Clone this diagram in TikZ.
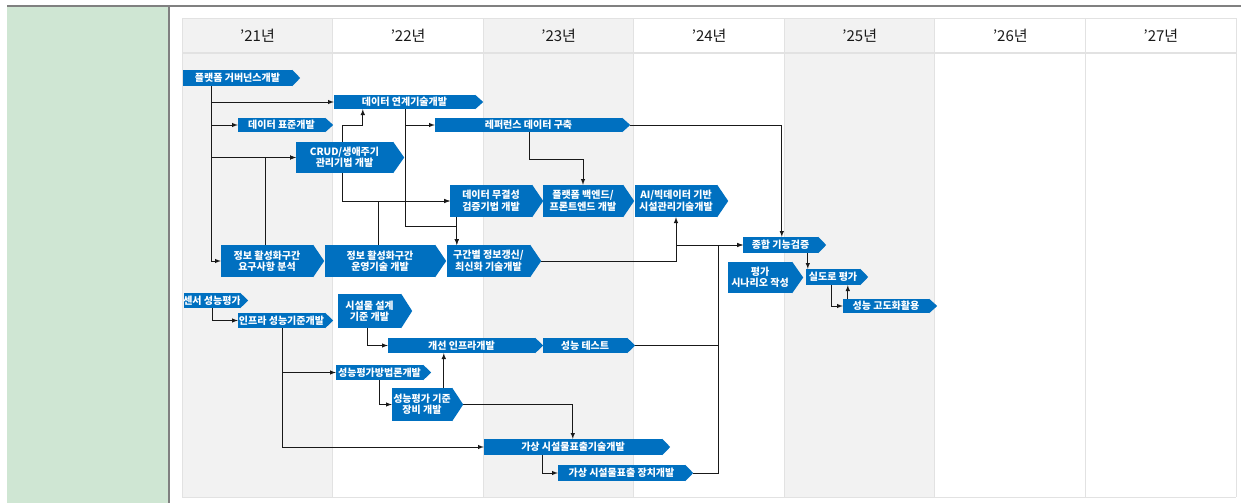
\documentclass[tikz,border=0pt]{standalone}
\usepackage{fontspec}
\setmainfont{Noto Sans CJK KR}
\usepackage{tikz}
\usepackage{xcolor}
\tikzset{>=latex}
\usetikzlibrary{calc}

\definecolor{taskblue}{HTML}{0070C0}
\definecolor{panelgreen}{HTML}{CFE6D3}
\definecolor{colgray}{HTML}{F2F2F2}
\definecolor{gridgray}{HTML}{E2E2E2}
\definecolor{rulegray}{HTML}{808080}

\pgfdeclarelayer{grid}
\pgfdeclarelayer{lines}
\pgfsetlayers{grid,lines,main}

\newcommand{\wide}[1]{\makebox[0pt]{#1}}

\tikzset{
  task/.style={fill=taskblue, text=white, inner sep=0pt, align=center,
    font=\fontsize{10}{11.5}\selectfont\bfseries},
  yearlbl/.style={text=black!90, font=\fontsize{15}{16}\selectfont},
  conn/.style={->, line width=1pt, black!90}
}

\begin{document}
\begin{tikzpicture}[x=1pt, y=-1pt]
    \useasboundingbox (0,0) rectangle (1241,503);

    % frame and table
    \begin{pgfonlayer}{grid}
    \fill[panelgreen] (7,6) rectangle (168,503);
    \draw[rulegray, line width=1.2pt] (7,6) -- (1241,6);
    \draw[rulegray, line width=1.2pt] (169,6) -- (169,503);
    \foreach \i in {0,2,4}
      \fill[colgray] ({182+150.57*\i},18) rectangle ++(150.57,479);
    \foreach \i in {0,...,7}
      \draw[gridgray, line width=0.8pt] ({182+150.57*\i},18) -- ++(0,479);
    \draw[gridgray, line width=0.8pt] (182,18) -- (1236,18)
          (182,497) -- (1236,497);
    \draw[gridgray, line width=2pt] (182,53) -- (1236,53);
    \end{pgfonlayer}
    \foreach \yr [count=\i from 0] in {21,...,27}
      \node[yearlbl] (y\yr) at ({257.5+150.57*\i},36) {'\yr{}년};

    % data tasks
    \node[task, minimum width=109pt, minimum height=16pt] (gov) at (237.5,78) {플랫폼 거버넌스개발};
    \node[task, minimum width=141pt, minimum height=14pt] (link) at (404.5,102) {데이터 연계기술개발};
    \node[task, minimum width=87pt, minimum height=14pt] (std) at (281.5,125) {데이터 표준개발};
    \node[task, minimum width=187pt, minimum height=14pt] (ref) at (528.5,125) {레퍼런스 데이터 구축};
    \node[task, minimum width=97pt, minimum height=31pt] (crud) at (344.5,157.5) {CRUD/생애주기\\관리기법 개발};
    \node[task, minimum width=82pt, minimum height=32pt] (integ) at (491,201) {데이터 무결성\\검증기법 개발};
    \node[task, minimum width=80pt, minimum height=32pt] (back) at (583,201) {플랫폼 백엔드/\\프론트엔드 개발};
    \node[task, minimum width=82pt, minimum height=32pt] (ai) at (676,201) {\wide{AI/빅데이터 기반}\\\wide{시설관리기술개발}};
    \node[task, minimum width=92pt, minimum height=32pt] (req) at (267,261) {정보 활성화구간\\요구사항 분석};
    \node[task, minimum width=110pt, minimum height=32pt] (oper) at (380,261) {정보 활성화구간\\운영기술 개발};
    \node[task, minimum width=83pt, minimum height=32pt] (sect) at (488.5,261) {구간별 정보갱신/\\최신화 기술개발};

    % verification tasks
    \node[task, minimum width=75pt, minimum height=16pt] (total) at (780.5,245) {종합 기능검증};
    \node[task, minimum width=64pt, minimum height=31pt] (scen) at (760,277.5) {평가\\시나리오 작성};
    \node[task, minimum width=54pt, minimum height=16pt] (road) at (833,277) {\wide{실도로 평가}};
    \node[task, minimum width=86pt, minimum height=14pt] (adv) at (886,306) {성능 고도화활용};

    % infra tasks
    \node[task, minimum width=56pt, minimum height=15pt] (sensor) at (212,300.5) {\wide{센서 성능평가}};
    \node[task, minimum width=87pt, minimum height=15pt] (infra) at (281.5,320.5) {\wide{인프라 성능기준개발}};
    \node[task, minimum width=63pt, minimum height=34pt] (design) at (369.5,311) {시설물 설계\\기준 개발};
    \node[task, minimum width=147pt, minimum height=15pt] (impr) at (461.5,345.5) {개선 인프라개발};
    \node[task, minimum width=84pt, minimum height=15pt] (test) at (585,345.5) {성능 테스트};
    \node[task, minimum width=87pt, minimum height=15pt] (method) at (379.5,372.5) {\wide{성능평가방법론개발}};
    \node[task, minimum width=60pt, minimum height=33pt] (crit) at (422,404.5) {\wide{성능평가 기준}\\장비 개발};
    \node[task, minimum width=178pt, minimum height=16pt] (vtech) at (573,447) {가상 시설물표출기술개발};
    \node[task, minimum width=127pt, minimum height=16pt] (vdev) at (621.5,473) {가상 시설물표출 장치개발};

    % arrow heads of the task bars
    \foreach \n in {gov,link,std,ref,total,road,adv,sensor,infra,impr,test,method,vtech,vdev}
      \fill[taskblue] (\n.north east) -- ([xshift=8]\n.east) -- (\n.south east) -- cycle;
    \foreach \n in {crud,integ,back,ai,req,oper,sect,scen,design,crit}
      \fill[taskblue] (\n.north east) -- ([xshift=11]\n.east) -- (\n.south east) -- cycle;

    % connectors
    \begin{pgfonlayer}{lines}
    \coordinate (gtrunk) at ([xshift=29]gov.south west);
    \draw[conn] (gtrunk) |- (req.west);
    \draw[conn] (gtrunk |- link.west) -- (link.west);
    \draw[conn] (gtrunk |- std.west) -- (std.west);
    \draw[conn] (gtrunk |- crud.west) -- (crud.west);
    \draw[conn] ([xshift=45]req.north west) |- (crud.west);
    \draw[conn] ([xshift=47]crud.north west) -- ++(0,-16) -| ([xshift=29]link.south west);
    \draw[conn] ([xshift=47]crud.south west) |- (integ.west);
    \draw[conn] ([xshift=54]oper.north west) |- (integ.west);
    \coordinate (ltrunk) at ([xshift=72]link.south west);
    \draw[conn] (ltrunk) |- (ref.west);
    \draw[conn] (ltrunk) -- ++(0,117) -| ([xshift=10]sect.north west);
    \draw[conn] ([xshift=7]integ.south west) -- ([xshift=10]sect.north west);
    \draw[conn] ([xshift=95]ref.south west) -- ++(0,27) -| (back.north);
    \draw[conn] ([xshift=8]ref.east) -| ([xshift=39]total.north west);
    \draw[conn] ([xshift=11]sect.east) -| (ai.south |- total.west) -- (total.west);
    \draw[conn] (ai.south |- total.west) -- (ai.south);
    \coordinate (jn) at ([xshift=-24]total.west);
    \draw[conn] ([xshift=8]test.east) -| (jn) -- (total.west);
    \draw[line width=1pt, black!90] ([xshift=8]vdev.east) -| (jn);
    \draw[conn] ([xshift=65]total.south west) -- ([xshift=2]road.north west);
    \draw[conn] ([xshift=26]road.south west) |- (adv.west);
    \draw[conn] ([xshift=5]adv.north west) -- ([xshift=42]road.south west);
    \draw[conn] ([xshift=29]sensor.south west) |- (infra.west);
    \coordinate (itrunk) at ([xshift=45]infra.south west);
    \draw[conn] (itrunk) |- (vtech.west);
    \draw[conn] (itrunk |- method.west) -- (method.west);
    \draw[conn] ([xshift=30]design.south west) |- (impr.west);
    \draw[conn] ([xshift=44]method.south west) |- (crit.west);
    \draw[conn] ([xshift=52]crit.north west) -- ([xshift=56]impr.south west);
    \draw[conn] ([xshift=11]crit.east) -| ([xshift=89]vtech.north west);
    \draw[conn] ([xshift=59]vtech.south west) |- (vdev.west);
    \end{pgfonlayer}
\end{tikzpicture}
\end{document}
